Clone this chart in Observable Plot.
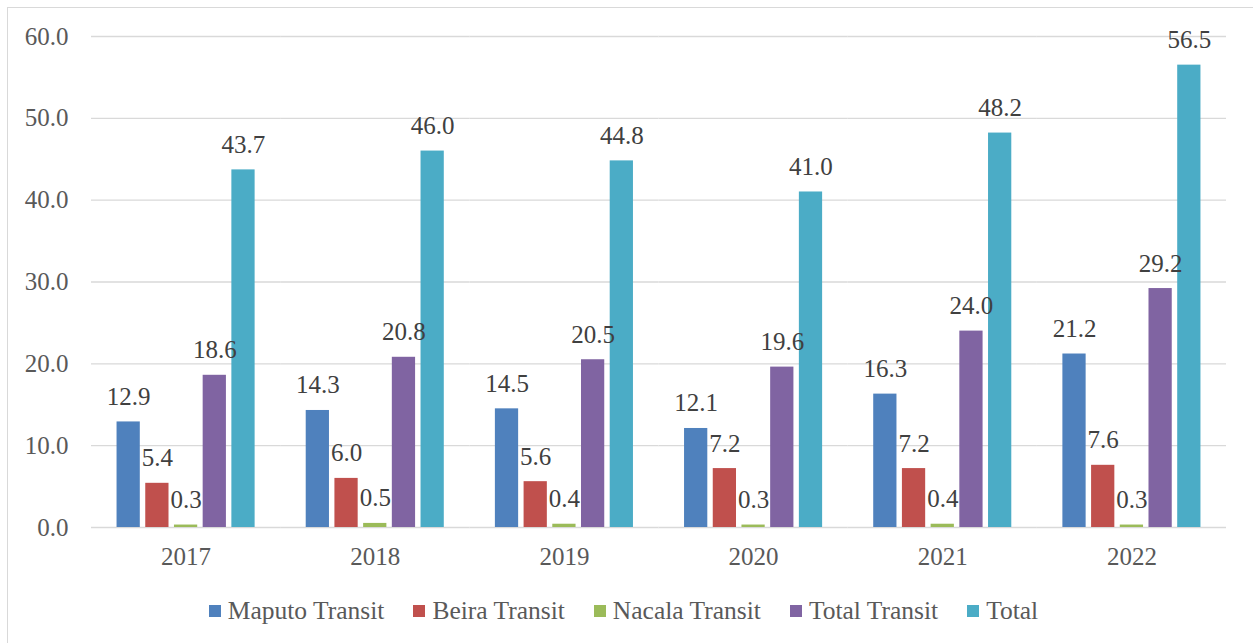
<!DOCTYPE html>
<html>
<head>
<meta charset="utf-8">
<script src="https://cdn.jsdelivr.net/npm/d3@7"></script>
<script src="https://cdn.jsdelivr.net/npm/@observablehq/plot@0.6"></script>
<style>
  html, body { margin: 0; padding: 0; background: #fff; }
  #wrap { position: relative; width: 1253px; height: 643px; overflow: hidden; font-family: "Liberation Serif", serif; }
  #frame { position: absolute; left: 7px; top: 7px; width: 1260px; height: 650px; border: 1px solid #d9d9d9; box-sizing: border-box; }
  #chart { position: absolute; left: 0; top: 0; }
  #legend { position: absolute; left: 0; top: 596px; width: 1253px; display: flex; justify-content: center; align-items: center; gap: 29px; font-size: 25.5px; color: #595959; padding-right: 6px; box-sizing: border-box; }
  #legend .item { display: flex; align-items: center; gap: 7px; }
  #legend .sw { width: 12px; height: 12px; display: inline-block; }
</style>
</head>
<body>
<div id="wrap">
  <div id="frame"></div>
  <div id="chart"></div>
  <div id="legend"></div>
</div>
<script>
// Cargo volumes per year (million tonnes)
const years = ["2017", "2018", "2019", "2020", "2021", "2022"];
const seriesNames = ["Maputo Transit", "Beira Transit", "Nacala Transit", "Total Transit", "Total"];
const seriesColors = ["#4F81BD", "#C0504D", "#9BBB59", "#8064A2", "#4BACC6"];

const maputoTransit = [12.9, 14.3, 14.5, 12.1, 16.3, 21.2];
const beiraTransit = [5.4, 6.0, 5.6, 7.2, 7.2, 7.6];
const nacalaTransit = [0.3, 0.5, 0.4, 0.3, 0.4, 0.3];
const totalTransit = [18.6, 20.8, 20.5, 19.6, 24.0, 29.2];
const total = [43.7, 46.0, 44.8, 41.0, 48.2, 56.5];

const yTicks = [0, 10, 20, 30, 40, 50, 60];

const seriesValues = [maputoTransit, beiraTransit, nacalaTransit, totalTransit, total];

// Long-format rows for the grouped bars
const rows = [];
years.forEach((year, i) => {
  seriesNames.forEach((name, s) => {
    rows.push({ year, series: name, value: seriesValues[s][i] });
  });
});

const fmt = d => d.toFixed(1);

const chart = Plot.plot({
  width: 1253,
  height: 580,
  marginLeft: 91,
  marginRight: 27,
  marginTop: 36,
  marginBottom: 53,
  style: { fontFamily: "Liberation Serif, serif", fontSize: "25px", background: "transparent" },
  fx: { domain: years, padding: 0, round: false },
  x: { domain: seriesNames, paddingInner: 0.19, paddingOuter: 0.89, round: false, axis: null },
  y: { domain: [0, 60] },
  color: { domain: seriesNames, range: seriesColors },
  marks: [
    Plot.gridY(yTicks, { stroke: "#d9d9d9", strokeOpacity: 1, strokeWidth: 1.3 }),
    Plot.axisY(yTicks, { tickSize: 0, tickPadding: 23, tickFormat: fmt, fill: "#595959", fontSize: 25, label: null }),
    Plot.axisFx({ anchor: "bottom", tickSize: 0, tickPadding: 20, fill: "#595959", fontSize: 25, label: null }),
    Plot.barY(rows, { fx: "year", x: "series", y: "value", fill: "series" }),
    Plot.text(rows, { fx: "year", x: "series", y: "value", text: d => fmt(d.value), dy: -25, lineAnchor: "middle", fill: "#404040", fontSize: 25 })
  ]
});

document.getElementById("chart").appendChild(chart);

// Legend below the chart
const legend = document.getElementById("legend");
seriesNames.forEach((name, i) => {
  const item = document.createElement("div");
  item.className = "item";
  const sw = document.createElement("span");
  sw.className = "sw";
  sw.style.background = seriesColors[i];
  const label = document.createElement("span");
  label.textContent = name;
  item.appendChild(sw);
  item.appendChild(label);
  legend.appendChild(item);
});
</script>
</body>
</html>
